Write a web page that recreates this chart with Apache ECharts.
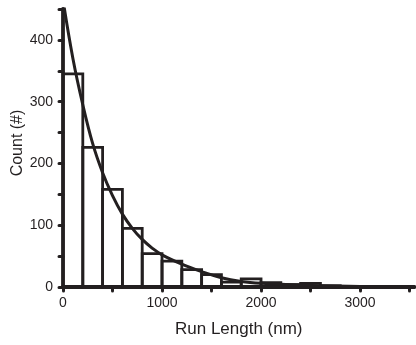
<!DOCTYPE html>
<html><head><meta charset="utf-8">
<script src="https://cdn.jsdelivr.net/npm/echarts@6/dist/echarts.min.js"></script>
<style>html,body{margin:0;padding:0;background:#fff}#c{width:416px;height:345px}</style>
</head><body><div id="c"></div>
<script>
// Histogram bins (nm) and counts
const binWidth = 200;
const binStarts = [0,200,400,600,800,1000,1200,1400,1600,1800,2000,2200,2400,2600,2800,3000,3200];
const counts    = [345,226,158,95,54,42,28,20,8,13,7,4,6,2,1,1,1];
// Fitted decay curve
const curveX = [0,100,200,300,400,500,600,700,800,900,1000,1200,1400,1600,1800,2000,2400,3000,3550];
const curveY = [465,370,295,232,185,148,118,95,77,63,52,37,25,15,9,6,3,1,0];
// Axis ticks / labels
const yTicks = [0,50,100,150,200,250,300,350,400,450];
const yLabels = [0,100,200,300,400];
const xTicks = [0,500,1000,1500,2000,2500,3000,3500];
const xLabels = [0,1000,2000,3000];

const ink = '#231f20';
const font = '"Liberation Sans", Arial, sans-serif';
const plain = v => String(v);
const chart = echarts.init(document.getElementById('c'), null, {renderer:'canvas'});
chart.setOption({
  animation:false,
  backgroundColor:'#fff',
  grid:{left:63, top:9, width:351.5, height:278},
  xAxis:{
    type:'value', min:0, max:3550,
    splitLine:{show:false},
    axisLine:{show:true, lineStyle:{color:ink, width:3.8}},
    axisTick:{show:true, customValues:xTicks, length:4, lineStyle:{color:ink, width:3, cap:'round'}},
    axisLabel:{customValues:xLabels, formatter:plain, color:ink, fontFamily:font, fontSize:14, margin:9},
    name:'Run Length (nm)', nameLocation:'middle', nameGap:34,
    nameTextStyle:{color:ink, fontFamily:font, fontSize:17}
  },
  yAxis:{
    type:'value', min:0, max:450,
    splitLine:{show:false},
    axisLine:{show:true, lineStyle:{color:ink, width:3.8}},
    axisTick:{show:true, customValues:yTicks, length:4, lineStyle:{color:ink, width:3, cap:'round'}},
    axisLabel:{customValues:yLabels, formatter:plain, color:ink, fontFamily:font, fontSize:14, margin:10}
  },
  graphic:[{type:'text', x:18, y:143, rotation:Math.PI/2,
    style:{text:'Count (#)', font:'16px "Liberation Sans", Arial, sans-serif', fill:ink, align:'center', verticalAlign:'middle'}}],
  series:[
    {
      type:'custom',
      data: binStarts.map((s,i)=>[s, counts[i]]),
      encode:{x:0, y:1},
      clip:true,
      renderItem:function(params, api){
        const s = api.value(0), c = api.value(1);
        const p0 = api.coord([s, c]);
        const p1 = api.coord([s + binWidth, 0]);
        return {type:'rect', shape:{x:p0[0], y:p0[1], width:p1[0]-p0[0], height:p1[1]-p0[1]},
          style:{fill:'none', stroke:ink, lineWidth:2.8}};
      },
      z:2
    },
    {
      type:'line',
      data: curveX.map((x,i)=>[x, curveY[i]]),
      showSymbol:false, smooth:0.4, clip:true,
      lineStyle:{color:ink, width:3},
      z:3
    }
  ]
});
</script></body></html>
